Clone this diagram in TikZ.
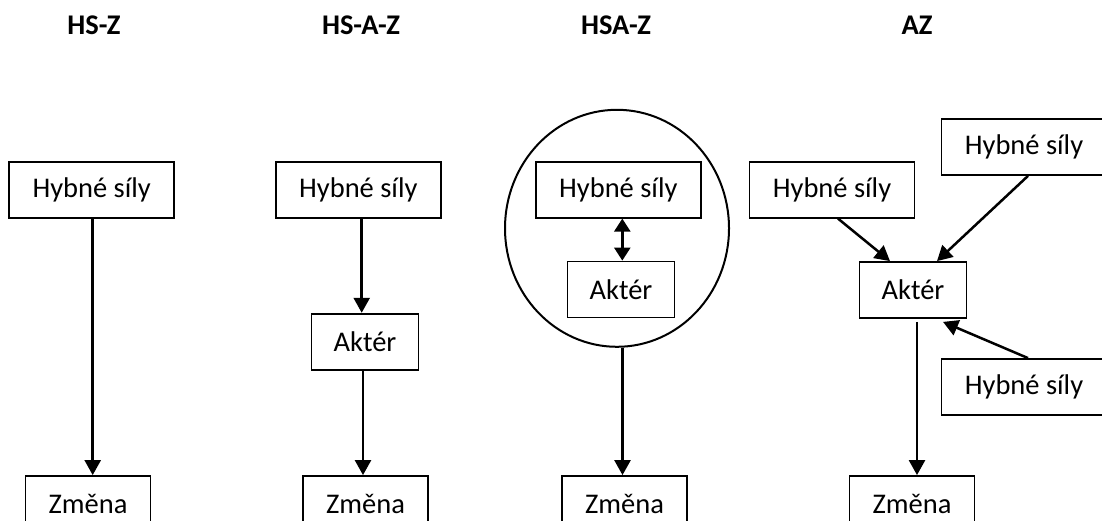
\documentclass[tikz,border=0pt]{standalone}
\usepackage{fontspec}
\setmainfont{Carlito}
\usetikzlibrary{arrows.meta,shapes.geometric}
\begin{document}
\begin{tikzpicture}[x=1pt,y=-1pt,
  box/.style={draw,line width=1.8pt,inner sep=0pt,minimum height=56pt,font=\fontsize{28.5}{32}\selectfont},
  wide/.style={box,minimum width=165pt},
  narrow/.style={box,minimum width=107pt},
  mid/.style={box,minimum width=125pt},
  title/.style={font=\fontsize{28.5}{32}\selectfont\bfseries,anchor=base},
  arr/.style={line width=2.5pt,-{Triangle[length=15pt,width=16pt]}},
  twoarr/.style={line width=2.5pt,{Triangle[length=13pt,width=16pt]}-{Triangle[length=13pt,width=16pt]}}]
\useasboundingbox (0,0) rectangle (1102,521);
\node[title] (t1) at (94,35) {HS-Z};
\node[title] (t2) at (361,35) {HS-A-Z};
\node[title] (t3) at (616,35) {HSA-Z};
\node[title] (t4) at (917,35) {AZ};
\node[wide] (hs1) at (91.7,189.7) {Hybné síly};
\node[mid] (zm1) at (88,504) {Změna};
\node[wide] (hs2) at (358.3,189.7) {Hybné síly};
\node[narrow] (akt2) at (365,341.7) {Aktér};
\node[mid] (zm2) at (365.5,504) {Změna};
\node[draw,ellipse,line width=2pt,inner sep=0pt,minimum width=224pt,minimum height=237pt] (ring) at (617,228.3) {};
\node[wide] (hs3) at (618.3,189.7) {Hybné síly};
\node[narrow] (akt3) at (621,289.5) {Aktér};
\node[mid] (zm3) at (624.5,504) {Změna};
\node[wide] (hs4a) at (832,189.7) {Hybné síly};
\node[wide] (hs4b) at (1024,147) {Hybné síly};
\node[narrow] (akt4) at (913,290) {Aktér};
\node[wide] (hs4c) at (1024,387) {Hybné síly};
\node[mid] (zm4) at (912,504) {Změna};
\draw[arr] ([xshift=1pt]hs1.south) -- ([xshift=1pt]hs1.south |- zm1.north);
\draw[arr] ([xshift=3.4pt]hs2.south) -- ([xshift=3.4pt]hs2.south |- akt2.north);
\draw[arr] ([xshift=-2pt]akt2.south) -- ([xshift=-2pt]akt2.south |- zm2.north);
\draw[twoarr] ([xshift=1.3pt]akt3.north |- hs3.south) -- ([xshift=1.3pt]akt3.north);
\draw[arr] ([xshift=1.5pt]akt3.south |- ring.south) -- ([xshift=1.5pt]akt3.south |- zm3.north);
\draw[arr] ([xshift=6pt]hs4a.south) -- ([xshift=-23pt]akt4.north);
\draw[arr] ([xshift=4pt]hs4b.south) -- ([xshift=24pt]akt4.north);
\draw[arr] ([xshift=4pt]hs4c.north) -- ([xshift=30pt,yshift=-3pt]akt4.south);
\draw[arr] ([xshift=4pt,yshift=-3pt]akt4.south) -- ([xshift=4pt]akt4.south |- zm4.north);
\end{tikzpicture}
\end{document}
